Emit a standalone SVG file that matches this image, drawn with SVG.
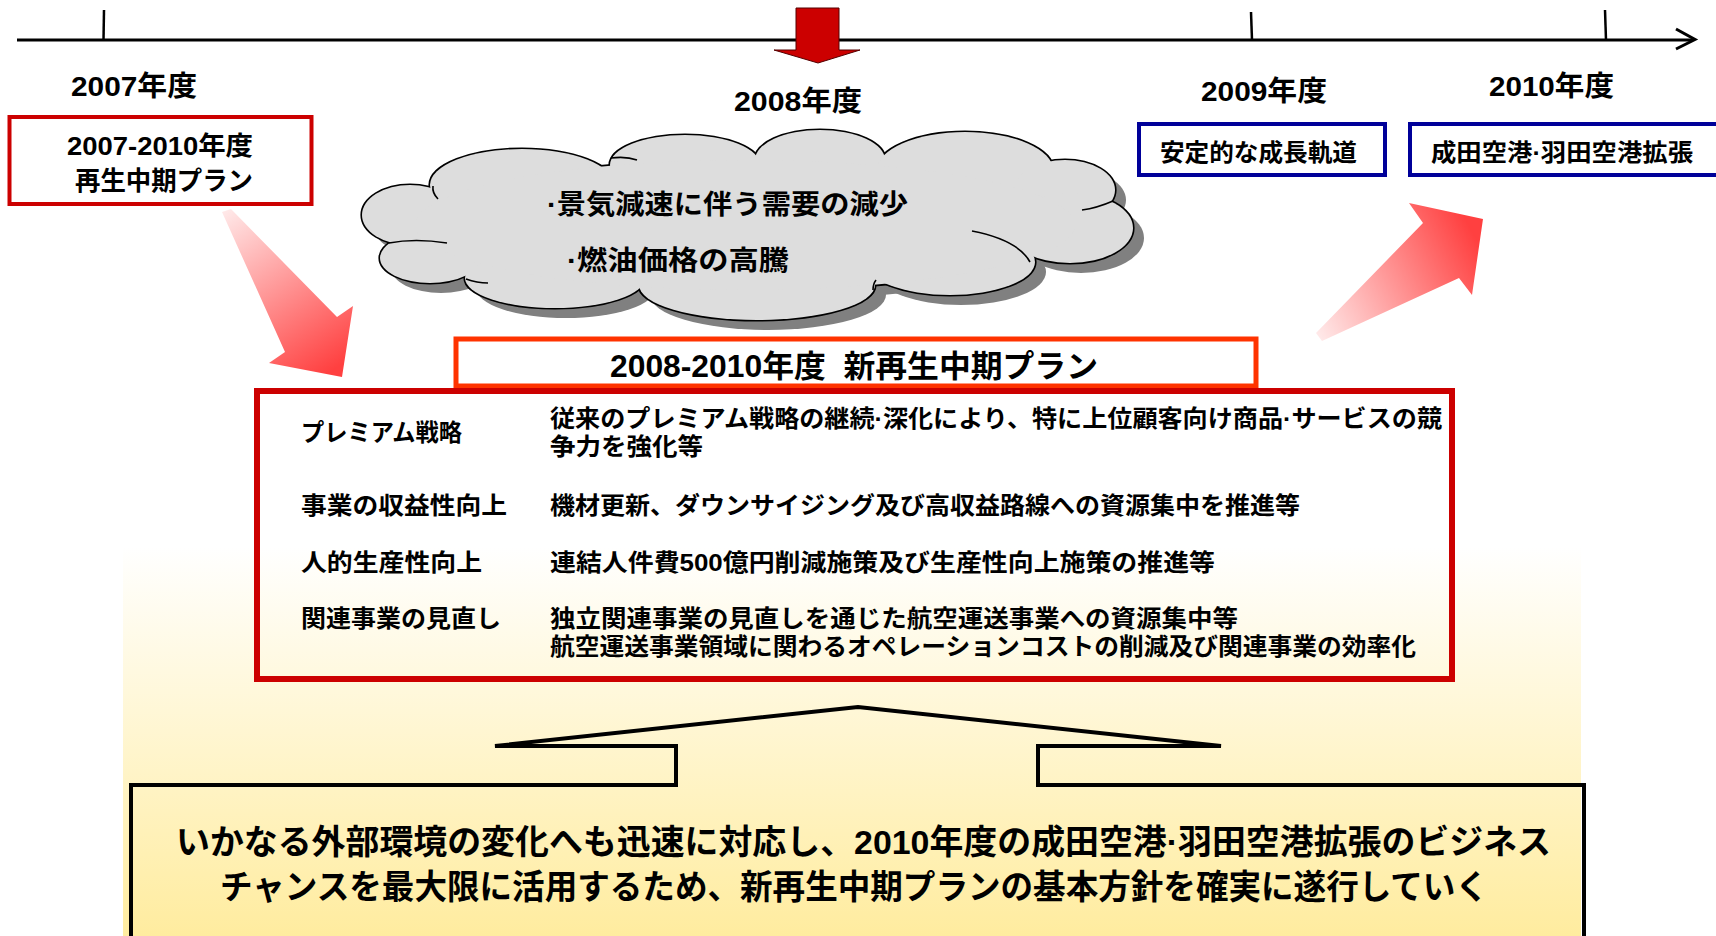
<svg xmlns="http://www.w3.org/2000/svg" width="1716" height="936" viewBox="0 0 1716 936">
<defs>
<style>
text{font-family:"Liberation Sans","Noto Sans CJK JP",sans-serif;font-weight:bold;fill:#000}
.f28{font-size:28px}
.f26{font-size:26px}
.f24{font-size:24px}
.f27{font-size:27px}
.f31{font-size:31px}
.f34{font-size:34px}
.redbox{fill:#FFFFFF;stroke:#CC0000;stroke-width:4}
.bluebox{fill:#FFFFFF;stroke:#000099;stroke-width:4}
.tick{stroke:#000;stroke-width:2.5;fill:none}
.ctick{stroke:#000;stroke-width:1.6;fill:none}
</style>
<linearGradient id="bgGrad" gradientUnits="userSpaceOnUse" x1="0" y1="380" x2="0" y2="936">
<stop offset="0" stop-color="#FFFFFF"/>
<stop offset="0.3" stop-color="#FFFFFF"/>
<stop offset="1" stop-color="#FFEC9F"/>
</linearGradient>
<linearGradient id="pinkL" gradientUnits="userSpaceOnUse" x1="226" y1="211" x2="330" y2="372">
<stop offset="0" stop-color="#FFE8E8"/>
<stop offset="1" stop-color="#FF4040"/>
</linearGradient>
<linearGradient id="pinkR" gradientUnits="userSpaceOnUse" x1="1320" y1="337" x2="1482" y2="250">
<stop offset="0" stop-color="#FFE8E8"/>
<stop offset="1" stop-color="#FF4040"/>
</linearGradient>
<g id="cloudShape">
<ellipse cx="522" cy="185" rx="92" ry="36"/>
<ellipse cx="685" cy="165" rx="75" ry="30"/>
<ellipse cx="820" cy="160" rx="65" ry="30"/>
<ellipse cx="965" cy="170" rx="88" ry="38"/>
<ellipse cx="1065" cy="190" rx="50" ry="30"/>
<ellipse cx="1070" cy="228" rx="63" ry="35"/>
<ellipse cx="950" cy="262" rx="85" ry="33"/>
<ellipse cx="757" cy="285" rx="118" ry="35"/>
<ellipse cx="555" cy="278" rx="90" ry="30"/>
<ellipse cx="430" cy="258" rx="50" ry="25"/>
<ellipse cx="410" cy="215" rx="48" ry="30"/>
<ellipse cx="745" cy="225" rx="330" ry="65"/>
</g>
</defs>

<rect x="0" y="0" width="1716" height="936" fill="#FFFFFF"/>
<rect id="background-panel" x="123" y="380" width="1458" height="556" fill="url(#bgGrad)"/>

<g id="timeline">
<line x1="17" y1="40" x2="1693" y2="40" stroke="#000" stroke-width="3"/>
<polyline points="1676,29 1695,39.5 1676,49" fill="none" stroke="#000" stroke-width="3"/>
<line class="tick" x1="104" y1="10" x2="103.5" y2="40"/>
<line class="tick" x1="1251" y1="12" x2="1252" y2="40"/>
<line class="tick" x1="1605" y1="10" x2="1606" y2="40"/>
</g>

<g id="year-labels">
<text class="f28" x="71" y="96" textLength="126" lengthAdjust="spacingAndGlyphs">2007年度</text>
<text class="f28" x="734" y="111" textLength="128" lengthAdjust="spacingAndGlyphs">2008年度</text>
<text class="f28" x="1201" y="101" textLength="126" lengthAdjust="spacingAndGlyphs">2009年度</text>
<text class="f28" x="1489" y="96" textLength="125" lengthAdjust="spacingAndGlyphs">2010年度</text>
</g>

<g id="plan-2007">
<rect class="redbox" x="9.5" y="117" width="302" height="87"/>
<text class="f26" x="67" y="155" textLength="186" lengthAdjust="spacingAndGlyphs">2007-2010年度</text>
<text class="f26" x="75" y="190" textLength="178" lengthAdjust="spacingAndGlyphs">再生中期プラン</text>
</g>

<g id="goal-2009">
<rect class="bluebox" x="1139" y="124" width="246" height="51"/>
<text class="f24" x="1160" y="161" textLength="197" lengthAdjust="spacingAndGlyphs">安定的な成長軌道</text>
</g>

<g id="goal-2010">
<rect class="bluebox" x="1410" y="124" width="330" height="51"/>
<text class="f24" x="1431" y="161" textLength="262" lengthAdjust="spacingAndGlyphs">成田空港·羽田空港拡張</text>
</g>

<g id="cloud">
<use href="#cloudShape" transform="translate(11,10)" fill="#808080"/>
<use href="#cloudShape" fill="#DDDDDD" stroke="#000" stroke-width="3.2"/>
<use href="#cloudShape" fill="#DDDDDD"/>
<path class="ctick" d="M433,186 Q432,193 438,199"/>
<path class="ctick" d="M611,158 Q626,156 637,160"/>
<path class="ctick" d="M1113,201 Q1097,208 1082,210"/>
<path class="ctick" d="M972,231 Q1018,240 1030,262"/>
<path class="ctick" d="M873,290 Q873,284 876,280"/>
<path class="ctick" d="M466,279 Q477,283 488,283"/>
<path class="ctick" d="M389,243 Q415,238 447,243"/>
<text class="f27" x="547" y="214" textLength="361" lengthAdjust="spacingAndGlyphs">·景気減速に伴う需要の減少</text>
<text class="f27" x="567" y="270" textLength="222" lengthAdjust="spacingAndGlyphs">·燃油価格の高騰</text>
</g>

<g id="connectors">
<polygon id="arrow-2008" points="796,8 839,8 839,50 860,50 818,63 774,50 796,50" fill="#CC0000" stroke="#550000" stroke-width="1"/>
<polygon id="arrow-left" points="222,212 231,209 337,317 353,306 342,377 269,363 285,352" fill="url(#pinkL)"/>
<polygon id="arrow-right" points="1316,333 1423,223 1409,203 1483,219 1472,295 1459,278 1322,341" fill="url(#pinkR)"/>
</g>

<g id="plan-title">
<rect x="456" y="339" width="800" height="47" fill="#FFFFFF" stroke="#FF3300" stroke-width="5"/>
<text class="f31" x="610" y="377" textLength="488" lengthAdjust="spacingAndGlyphs" xml:space="preserve">2008-2010年度  新再生中期プラン</text>
</g>

<g id="plan-table">
<rect x="257" y="391" width="1195" height="288" fill="none" stroke="#CC0000" stroke-width="6"/>
<text class="f24" x="301" y="441" textLength="161" lengthAdjust="spacingAndGlyphs">プレミアム戦略</text>
<text class="f24" x="301" y="514" textLength="206" lengthAdjust="spacingAndGlyphs">事業の収益性向上</text>
<text class="f24" x="301" y="571" textLength="181" lengthAdjust="spacingAndGlyphs">人的生産性向上</text>
<text class="f24" x="301" y="627" textLength="200" lengthAdjust="spacingAndGlyphs">関連事業の見直し</text>
<text class="f24" x="550" y="427" textLength="892" lengthAdjust="spacingAndGlyphs">従来のプレミアム戦略の継続·深化により、特に上位顧客向け商品·サービスの競</text>
<text class="f24" x="550" y="455" textLength="153" lengthAdjust="spacingAndGlyphs">争力を強化等</text>
<text class="f24" x="550" y="514" textLength="750" lengthAdjust="spacingAndGlyphs">機材更新、ダウンサイジング及び高収益路線への資源集中を推進等</text>
<text class="f24" x="550" y="571" textLength="665" lengthAdjust="spacingAndGlyphs">連結人件費500億円削減施策及び生産性向上施策の推進等</text>
<text class="f24" x="550" y="627" textLength="688" lengthAdjust="spacingAndGlyphs">独立関連事業の見直しを通じた航空運送事業への資源集中等</text>
<text class="f24" x="550" y="655" textLength="866" lengthAdjust="spacingAndGlyphs">航空運送事業領域に関わるオペレーションコストの削減及び関連事業の効率化</text>
</g>

<g id="policy-callout">
<polygon points="131,945 131,785 676,785 676,746 495,746 858,707 1221,746 1038,746 1038,785 1584,785 1584,945" fill="none" stroke="#000" stroke-width="4"/>
<text class="f34" x="176" y="854" textLength="1375" lengthAdjust="spacingAndGlyphs">いかなる外部環境の変化へも迅速に対応し、2010年度の成田空港·羽田空港拡張のビジネス</text>
<text class="f34" x="220" y="899" textLength="1268" lengthAdjust="spacingAndGlyphs">チャンスを最大限に活用するため、新再生中期プランの基本方針を確実に遂行していく</text>
</g>
</svg>
